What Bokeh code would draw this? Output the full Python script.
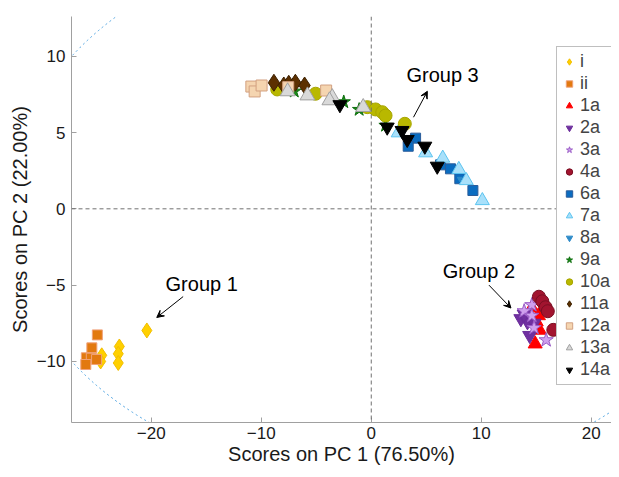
from bokeh.plotting import figure
from bokeh.models import Span, Label, Arrow, VeeHead, FixedTicker, Legend, LegendItem, Range1d
from bokeh.embed import file_html
from bokeh.resources import INLINE

# ---- data (PC1, PC2 scores) ----
names = ["i", "ii", "1a", "2a", "3a", "4a", "6a", "7a", "8a", "9a", "10a", "11a", "12a", "13a", "14a"]
pc1 = {
    "i":   [-20.4, -22.9, -23.0, -23.0, -24.5, -24.6],
    "ii":  [-24.9, -25.4, -25.9, -25.45, -24.97, -25.95],
    "1a":  [14.9, 15.3, 15.2, 14.6, 15.0],
    "2a":  [13.6, 14.2, 14.8, 14.4, 13.9],
    "3a":  [14.6, 13.9, 14.6, 14.8, 15.9],
    "4a":  [15.24, 15.55, 15.85, 16.05, 16.55],
    "6a":  [4.03, 3.36, 6.3, 7.2, 8.05, 9.24],
    "7a":  [2.45, 4.94, 6.5, 7.96, 8.64, 10.1],
    "8a":  [8.05],
    "9a":  [-2.5, -1.1, 1.3, -7.0],
    "10a": [-8.55, -5.06, -0.36, 0.39, 1.0, 1.3, 3.05],
    "11a": [-8.85, -7.95, -7.5, -6.9, -6.06],
    "12a": [-10.9, -10.6, -9.97, -7.55, -4.1],
    "13a": [-7.6, -5.8, -3.55, -3.8, -0.73],
    "14a": [-2.85, 1.45, 2.8, 3.27, 4.87, 6.0],
}
pc2 = {
    "i":   [-7.97, -9.02, -9.5, -10.1, -9.6, -10.0],
    "ii":  [-8.26, -9.11, -9.76, -9.79, -9.87, -10.2],
    "1a":  [-8.85, -7.95, -7.0, -6.5, -7.4],
    "2a":  [-7.2, -7.4, -7.5, -8.3, -6.9],
    "3a":  [-6.3, -6.7, -7.0, -7.8, -8.6],
    "4a":  [-5.76, -6.06, -6.45, -6.71, -7.93],
    "6a":  [4.63, 4.1, 2.88, 2.62, 1.97, 1.2],
    "7a":  [4.98, 3.67, 3.32, 2.58, 1.85, 0.54],
    "8a":  [1.97],
    "9a":  [7.0, 6.5, 5.46, 7.7],
    "10a": [7.82, 7.54, 6.66, 6.51, 6.33, 6.11, 5.57],
    "11a": [8.26, 8.08, 8.19, 8.26, 8.08],
    "12a": [8.01, 7.69, 8.08, 7.97, 7.75],
    "13a": [7.69, 7.42, 7.31, 7.1, 6.66],
    "14a": [6.82, 5.35, 5.13, 4.54, 4.1, 2.79],
}

x_ticks = [-20, -10, 0, 10, 20]
y_ticks = [-10, -5, 0, 5, 10]
x_label = "Scores on PC 1 (76.50%)"
y_label = "Scores on PC 2 (22.00%)"

# confidence ellipse (semi-axes in score units)
ell_a = 33.0
ell_b = 17.7

group_labels = ["Group 1", "Group 2", "Group 3"]
group_text_x = [-18.7, 6.5, 3.2]
group_text_y = [-4.9, -4.06, 8.74]
arrow_x0 = [-17.1, 10.7, 3.84]
arrow_y0 = [-5.75, -5.0, 6.0]
arrow_x1 = [-19.5, 12.7, 5.1]
arrow_y1 = [-7.12, -6.5, 7.7]

# ---- styles ----
styles = {
    "i":   dict(marker="diamond", size=15, fill_color="#FFD000", line_color="#F2BE00"),
    "ii":  dict(marker="square", size=10, fill_color="#E2790F", line_color="#F0A27A"),
    "1a":  dict(marker="triangle", size=14, fill_color="#FF0000", line_color="#FF0000"),
    "2a":  dict(marker="inverted_triangle", size=14, fill_color="#7030A0", line_color="#6A2C9A"),
    "3a":  dict(marker="star", size=15, fill_color="#CFA0EE", line_color="#9A5CC6"),
    "4a":  dict(marker="circle", size=13, fill_color="#A2142F", line_color="#7A0E22"),
    "6a":  dict(marker="square", size=10, fill_color="#0A6CC0", line_color="#2A5C9A"),
    "7a":  dict(marker="triangle", size=14, fill_color="#A8E0FA", line_color="#5CC4F0"),
    "8a":  dict(marker="inverted_triangle", size=5, fill_color="#2E8BC9", line_color="#2E8BC9"),
    "9a":  dict(marker="star", size=14, fill_color="#1A8A1A", line_color="#0F6F0F"),
    "10a": dict(marker="circle", size=13, fill_color="#B9B800", line_color="#A8A600"),
    "11a": dict(marker="diamond", size=17, fill_color="#5C3000", line_color="#3C2000"),
    "12a": dict(marker="square", size=11, fill_color="#F5D5B0", line_color="#D2A080"),
    "13a": dict(marker="triangle", size=15, fill_color="#D9D9D9", line_color="#A0A0A0"),
    "14a": dict(marker="inverted_triangle", size=14, fill_color="#000000", line_color="#000000"),
}

FONT = "Liberation Sans"

p = figure(width=611, height=469, output_backend="svg", toolbar_location=None,
           x_range=Range1d(-27.25, 21.84), y_range=Range1d(-14.0, 12.6),
           min_border_left=71, min_border_right=0, min_border_top=16, min_border_bottom=47)
p.outline_line_color = None
p.xgrid.visible = False
p.ygrid.visible = False
p.background_fill_color = "white"

# ellipse
p.ellipse(x=0, y=0, width=2 * ell_a, height=2 * ell_b, fill_color=None,
          line_color="#4FA3E0", line_width=1, line_dash="2 3")

# zero lines
p.add_layout(Span(location=0, dimension="height", line_color="#707070", line_dash="4 3", line_width=1))
p.add_layout(Span(location=0, dimension="width", line_color="#707070", line_dash="4 3", line_width=1))

items = []
for n in names:
    st = styles[n]
    r = p.scatter(x=pc1[n], y=pc2[n], line_width=1, **st)
    items.append(LegendItem(label=n, renderers=[r]))

# annotations
for t, tx, ty in zip(group_labels, group_text_x, group_text_y):
    p.add_layout(Label(x=tx, y=ty, text=t, text_font=FONT, text_font_size="20px",
                       text_color="#000000", text_baseline="middle", text_align="left"))
for xa, ya, xb, yb in zip(arrow_x0, arrow_y0, arrow_x1, arrow_y1):
    p.add_layout(Arrow(x_start=xa, y_start=ya, x_end=xb, y_end=yb, line_color="black", line_width=1,
                       end=VeeHead(size=7, fill_color="black", line_color="black")))

legend = Legend(items=items, location=(485, 37), padding=4, spacing=1,
                label_height=21, glyph_height=21, glyph_width=16, label_standoff=3,
                label_text_font=FONT, label_text_font_size="18px",
                border_line_color="#7f7f7f", border_line_width=1,
                background_fill_alpha=1.0, margin=0)
p.add_layout(legend, "center")

for ax in (p.xaxis[0], p.yaxis[0]):
    ax.axis_line_color = "#a0a0a0"
    ax.major_tick_line_color = "#a0a0a0"
    ax.major_tick_in = 5
    ax.major_tick_out = 0
    ax.minor_tick_line_color = None
    ax.major_label_text_font = FONT
    ax.major_label_text_font_size = "17px"
    ax.major_label_text_color = "#1a1a1a"
    ax.axis_label_text_font = FONT
    ax.axis_label_text_font_size = "20px"
    ax.axis_label_text_font_style = "normal"
    ax.axis_label_text_color = "#1a1a1a"

p.xaxis[0].ticker = FixedTicker(ticks=x_ticks)
p.yaxis[0].ticker = FixedTicker(ticks=y_ticks)
p.xaxis[0].axis_label = x_label
p.yaxis[0].axis_label = y_label
p.xaxis[0].major_label_standoff = 4
p.yaxis[0].major_label_standoff = 6
p.xaxis[0].axis_label_standoff = 1
p.yaxis[0].axis_label_standoff = 3

open("out.html", "w").write(file_html(p, INLINE))
